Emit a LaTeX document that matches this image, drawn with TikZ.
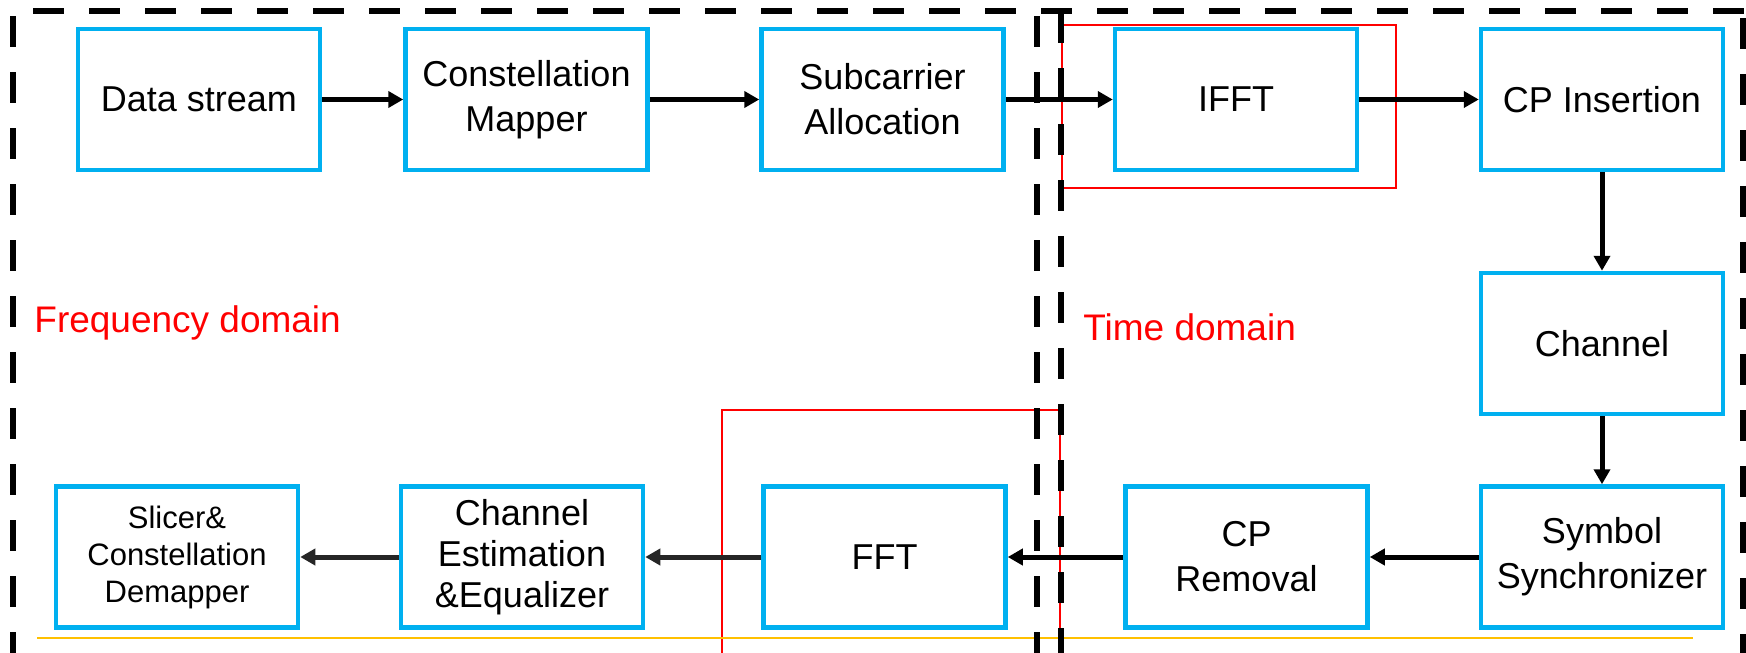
\documentclass[tikz,border=0pt]{standalone}
\usepackage{fontspec}
\setmainfont{Liberation Sans}
\usetikzlibrary{arrows.meta}

\definecolor{boxblue}{HTML}{00B0F0}
\definecolor{framered}{HTML}{FF0000}
\definecolor{lineyellow}{HTML}{FFC000}
\definecolor{arrowgray}{HTML}{262626}

\tikzset{
    block/.style={draw=boxblue, line width=2.25pt, fill=white, minimum width=121pt,
        minimum height=70.5pt, align=center, inner sep=2pt,
        font=\fontsize{18}{22.5}\selectfont},
    flow/.style={line width=2.5pt, -{Triangle[length=7.5pt,width=8pt]}},
    domainline/.style={line width=3.25pt, dash pattern=on 15.5pt off 12.5pt},
    redframe/.style={draw=framered, line width=1pt},
    domainlabel/.style={text=framered, anchor=base west, inner sep=0pt,
        font=\fontsize{18.5}{22}\selectfont},
}

\begin{document}
\begin{tikzpicture}[x=0.5pt, y=-0.5pt]
    \useasboundingbox (0,0) rectangle (1746,653);
    \clip (0,0) rectangle (1746,653);

    \draw[redframe] (1062,25) rectangle (1396,188);
    \draw[redframe] (722,410) rectangle (1060,700);
    \draw[lineyellow, line width=0.9pt] (37,638) -- (1693,638);

    \draw[domainline] (13,16) -- (13,660);
    \draw[domainline] (33,11) -- (1746,11);
    \draw[domainline] (1037,16) -- (1037,660);
    \draw[domainline] (1061,12) -- (1061,660);
    \draw[domainline] (1743,18) -- (1743,660);

    \node[domainlabel] (freqlabel) at (34,332) {Frequency domain};
    \node[domainlabel] (timelabel) at (1083,340) {Time domain};

    \node[block] (data) at (199,99.5) {Data stream};
    \node[block] (mapper) at (526.5,99.5) {Constellation\\Mapper};
    \node[block] (alloc) at (882.5,99.5) {Subcarrier\\Allocation};
    \node[block] (ifft) at (1236,99.5) {IFFT};
    \node[block] (cpins) at (1602,99.5) {CP Insertion};
    \node[block] (channel) at (1602,343.5) {Channel};
    \node[block] (sync) at (1602,557) {Symbol\\Synchronizer};
    \node[block] (cprem) at (1246.5,557) {CP\\Removal};
    \node[block] (fft) at (884.5,557) {FFT};
    \node[block, font=\fontsize{18}{20.5}\selectfont] (equalizer) at (522,557)
        {Channel\\Estimation\\\&Equalizer};
    \node[block, font=\fontsize{15.5}{18.5}\selectfont] (slicer) at (177,557)
        {Slicer\&\\Constellation\\Demapper};

    \draw[flow] (data) -- (mapper);
    \draw[flow] (mapper) -- (alloc);
    \draw[flow] (alloc) -- (ifft);
    \draw[flow] (ifft) -- (cpins);
    \draw[flow] (cpins) -- (channel);
    \draw[flow] (channel) -- (sync);
    \draw[flow] (sync) -- (cprem);
    \draw[flow] (cprem) -- (fft);
    \draw[flow, arrowgray] (fft) -- (equalizer);
    \draw[flow, arrowgray] (equalizer) -- (slicer);
\end{tikzpicture}
\end{document}
